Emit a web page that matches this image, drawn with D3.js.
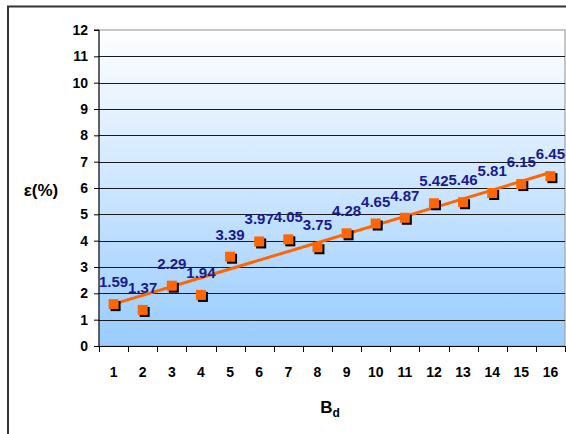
<!DOCTYPE html>
<html>
<head>
<meta charset="utf-8">
<script src="https://cdn.jsdelivr.net/npm/d3@7"></script>
<style>
  html, body { margin: 0; padding: 0; background: #fff; }
  svg { display: block; font-family: "Liberation Sans", Arial, sans-serif; }
</style>
</head>
<body>
<svg id="chart" width="566" height="434"></svg>
<script>
// Strain ε(%) for each Bd step
const categories = ["1","2","3","4","5","6","7","8","9","10","11","12","13","14","15","16"];
const strainValues = [1.59, 1.37, 2.29, 1.94, 3.39, 3.97, 4.05, 3.75, 4.28, 4.65, 4.87, 5.42, 5.46, 5.81, 6.15, 6.45];
const yTicks = [0, 1, 2, 3, 4, 5, 6, 7, 8, 9, 10, 11, 12];

const svg = d3.select("#chart");
const plot = { left: 99, top: 30, right: 565, bottom: 346 };

const x = d3.scaleBand().domain(categories).range([plot.left, plot.right]).padding(0);
const y = d3.scaleLinear().domain([0, 12]).range([plot.bottom, plot.top]);

// Outer chart frame
svg.append("path")
  .attr("d", `M8,434 L8,6.5 L566,6.5`)
  .attr("fill", "none").attr("stroke", "#333").attr("stroke-width", 2);

// Plot background gradient
const defs = svg.append("defs");
const grad = defs.append("linearGradient").attr("id", "bg").attr("x1", 0).attr("y1", 0).attr("x2", 0).attr("y2", 1);
grad.append("stop").attr("offset", "0%").attr("stop-color", "#ffffff");
grad.append("stop").attr("offset", "100%").attr("stop-color", "#99ccff");

svg.append("rect")
  .attr("x", plot.left).attr("y", plot.top)
  .attr("width", plot.right - plot.left).attr("height", plot.bottom - plot.top)
  .attr("fill", "url(#bg)")
  .attr("stroke", "#a0a0a0").attr("stroke-width", 1.2);

// Horizontal gridlines
svg.append("g").selectAll("line")
  .data(yTicks.filter(d => d > 0 && d < 12))
  .join("line")
  .attr("x1", plot.left).attr("x2", plot.right)
  .attr("y1", d => Math.round(y(d)) + 0.5).attr("y2", d => Math.round(y(d)) + 0.5)
  .attr("stroke", "#1a1a1a").attr("stroke-width", 1);

// Y axis
const yAxis = svg.append("g")
  .attr("transform", `translate(${plot.left},0)`)
  .call(d3.axisLeft(y).tickValues(yTicks).tickSize(5).tickPadding(6).tickFormat(d3.format("d")));
yAxis.select(".domain").attr("stroke", "#000").attr("d", `M-5,${plot.top}H0V${plot.bottom}`);
yAxis.selectAll(".tick line").attr("stroke", "#000");
yAxis.selectAll(".tick text").attr("font-size", 14).attr("font-weight", "bold").attr("fill", "#000")
  .attr("font-family", "Liberation Sans, Arial, sans-serif");

// X axis: ticks between categories
const xAxis = svg.append("g").attr("transform", `translate(0,${plot.bottom})`);
xAxis.append("line").attr("x1", plot.left).attr("x2", plot.right).attr("y1", 0.5).attr("y2", 0.5).attr("stroke", "#000");
const boundaries = categories.map(c => x(c)).concat([plot.right]);
xAxis.selectAll("line.tk").data(boundaries).join("line").attr("class", "tk")
  .attr("x1", d => Math.round(d) + 0.5).attr("x2", d => Math.round(d) + 0.5)
  .attr("y1", 0).attr("y2", 6).attr("stroke", "#000");
xAxis.selectAll("text").data(categories).join("text")
  .attr("x", d => x(d) + x.bandwidth() / 2).attr("y", 31)
  .attr("text-anchor", "middle").attr("font-size", 14).attr("font-weight", "bold").attr("fill", "#000")
  .text(d => d);

// Linear trendline (least squares)
const xs = categories.map((c, i) => i + 1);
const n = xs.length;
const mx = d3.mean(xs), my = d3.mean(strainValues);
const slope = d3.sum(xs.map((v, i) => (v - mx) * (strainValues[i] - my))) / d3.sum(xs.map(v => (v - mx) ** 2));
const intercept = my - slope * mx;
const cx = c => x(c) + x.bandwidth() / 2;
svg.append("line")
  .attr("x1", cx(categories[0])).attr("y1", y(intercept + slope * xs[0]))
  .attr("x2", cx(categories[n - 1])).attr("y2", y(intercept + slope * xs[n - 1]))
  .attr("stroke", "#ff6600").attr("stroke-width", 3);

// Markers with shadow
const pts = categories.map((c, i) => ({ c, v: strainValues[i] }));
const ms = 10;
svg.append("g").selectAll("rect").data(pts).join("rect")
  .attr("x", d => cx(d.c) - ms / 2 + 2).attr("y", d => y(d.v) - ms / 2 + 2)
  .attr("width", ms).attr("height", ms).attr("fill", "#000");
svg.append("g").selectAll("rect").data(pts).join("rect")
  .attr("x", d => cx(d.c) - ms / 2).attr("y", d => y(d.v) - ms / 2)
  .attr("width", ms).attr("height", ms).attr("fill", "#ff6600");

// Value labels
svg.append("g").selectAll("text").data(pts).join("text")
  .attr("x", d => cx(d.c)).attr("y", d => y(d.v) - 17)
  .attr("text-anchor", "middle").attr("font-size", 15).attr("font-weight", "bold").attr("fill", "#1a1a8c")
  .text(d => d.v.toFixed(2));

// Axis titles
svg.append("text").attr("x", 41).attr("y", 196).attr("text-anchor", "middle")
  .attr("font-size", 17).attr("font-weight", "bold").attr("fill", "#000").text("ε(%)");
const xt = svg.append("text").attr("x", 330).attr("y", 413).attr("text-anchor", "middle")
  .attr("font-size", 17).attr("font-weight", "bold").attr("fill", "#000");
xt.append("tspan").text("B");
xt.append("tspan").attr("dy", 4).attr("font-size", 12).text("d");
</script>
</body>
</html>
